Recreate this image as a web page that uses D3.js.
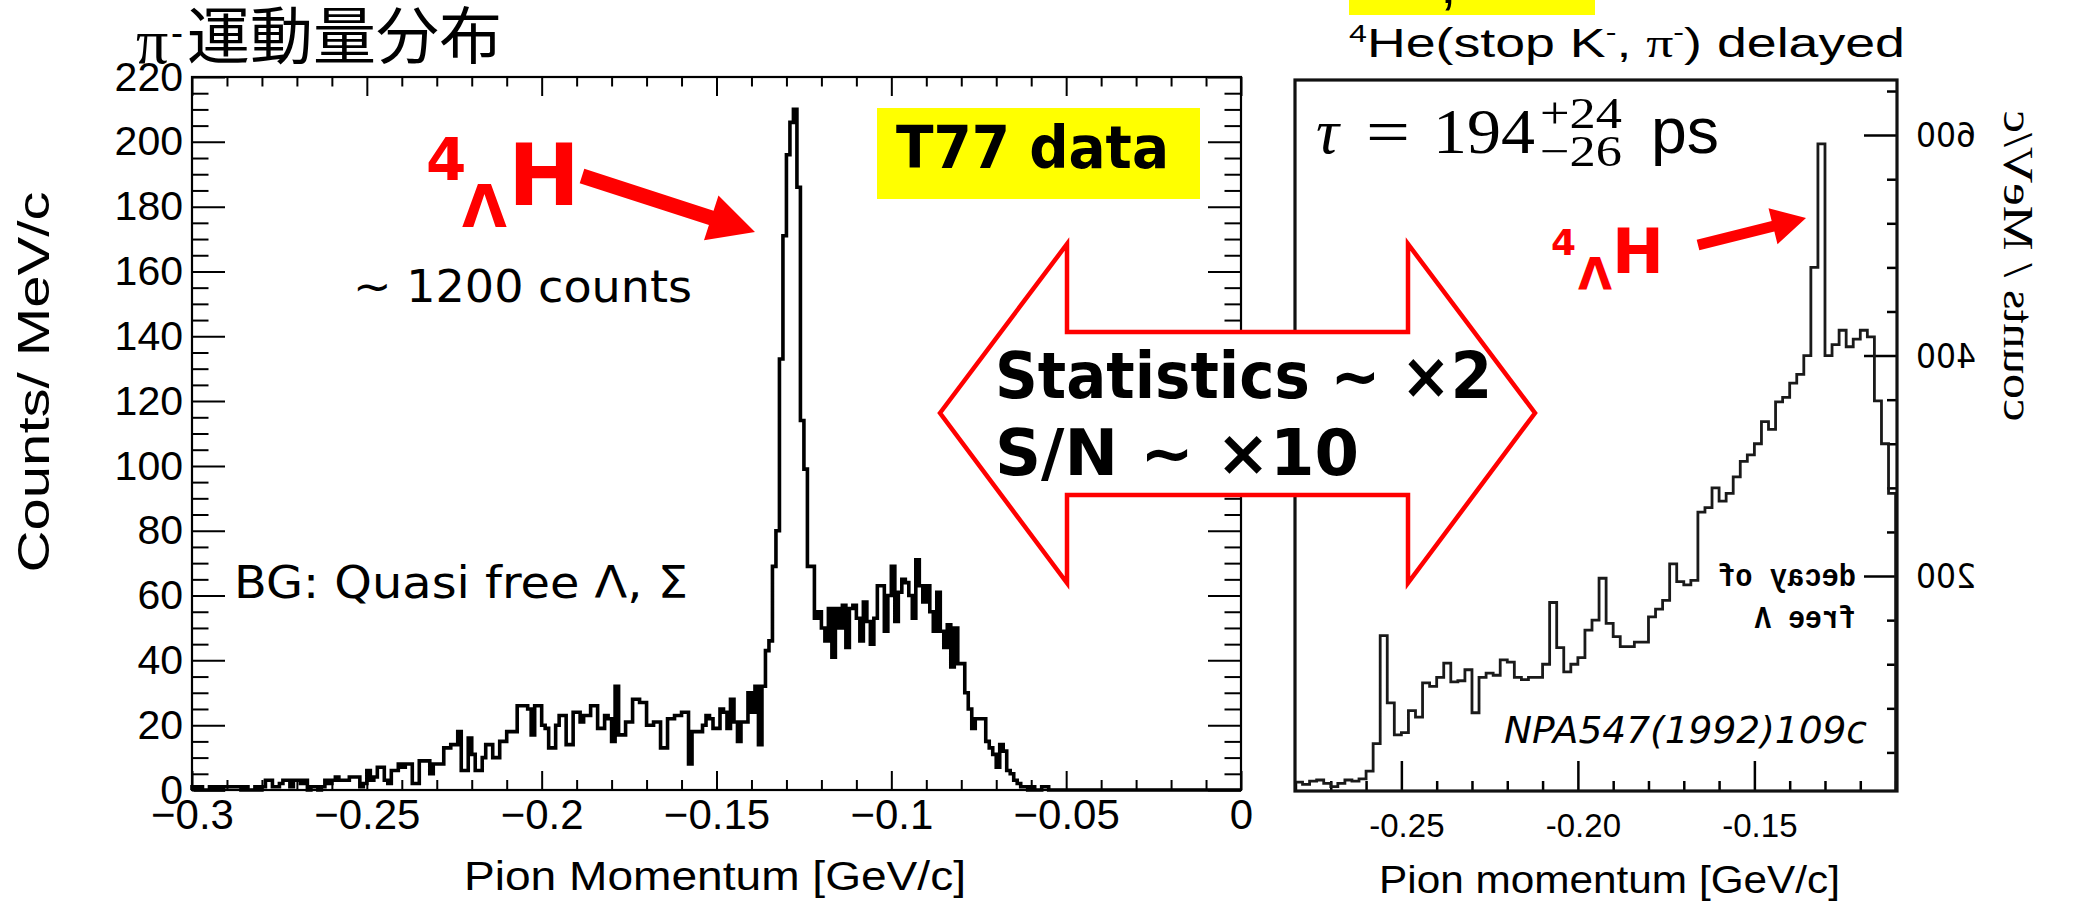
<!DOCTYPE html>
<html><head><meta charset="utf-8">
<script src="https://cdn.jsdelivr.net/npm/d3@7"></script>
<style>body{margin:0;background:#fff}svg{display:block}</style>
</head><body>
<svg id="c" width="2080" height="903"></svg>
<script>
// ---------------- DATA ----------------
// Left: T77 data, pi- momentum, 1 MeV/c bins starting at -0.300 GeV/c
const leftBinStart = -0.300;
const leftBinWidth = 0.001;
const leftCounts = [
 1,0,1,0,0,1,0,1,0,1,   1,1,1,1,0,1,0,0,1,0,
 1,3,3,1,1,2,3,3,1,3,   3,2,3,0,1,1,0,1,3,2,
 3,4,3,3,3,4,4,4,1,2,   6,3,4,7,7,3,2,6,6,8,
 7,8,8,2,2,9,9,9,5,8,   8,8,13,13,14,14,18,6,6,16,
 11,6,6,10,14,14,10,10,15,15,  18,18,18,26,26,26,25,17,26,26,
 20,19,13,13,20,23,23,14,14,24,  24,21,23,23,26,26,19,19,23,22,
 15,32,17,17,21,21,28,28,27,27,  20,20,21,21,13,13,22,22,23,23,
 24,24,8,18,18,18,20,23,22,19,   19,25,24,19,28,21,15,21,21,30,
 24,32,14,32,43,46,69,80,133,171, 196,206,210,186,114,99,69,69,53,55,
 50,46,56,41,56,50,57,44,56,57,  53,46,58,52,45,53,63,63,49,60,
 69,52,61,65,64,60,53,71,63,58,  63,55,49,61,49,44,51,38,50,39,
 39,30,25,19,22,22,22,15,13,11,  7,14,12,6,5,3,2,1,1,0,
 1,0,0,1,1,0,0,0,0,0,  0,0,0,0,0,0,0,0,0,0,
 0,0,0,0,0,0,0,0,0,0,  0,0,0,0,0,0,0,0,0,0,
 0,0,0,0,0,0,0,0,0,0,  0,0,0,0,0,0,0,0,0,0
];
const leftYTicks = [0,20,40,60,80,100,120,140,160,180,200,220];
const leftXTicks = [-0.3,-0.25,-0.2,-0.15,-0.1,-0.05,0];
const leftXTickLabels = ["\u22120.3","\u22120.25","\u22120.2","\u22120.15","\u22120.1","\u22120.05","0"];

// Right: NPA547(1992)109c, 2 MeV/c bins starting at -0.282 GeV/c
const rightBinStart = -0.282;
const rightBinWidth = 0.002;
const rightCounts = [
 13,
 13,11,14,15,12,9,12,15,14,16,
 23,48,146,85,56,58,78,72,103,100,
 108,121,104,105,115,76,108,112,110,124,
 122,108,106,108,108,120,176,135,113,120,
 126,151,160,198,157,145,136,136,140,140,
 163,170,178,211,195,192,196,258,262,280,
 268,275,290,304,310,320,340,333,358,362,
 375,383,400,480,592,400,410,423,408,415,
 423,417,359,320,275
];
const rightXTicks = [-0.25,-0.20,-0.15];
const rightXTickLabels = ["-0.25","-0.20","-0.15"];
const rightYTicks = [200,400,600];

// ---------------- DRAW ----------------
const svg = d3.select("#c");

function tickAxis(g, axis, tr, sw) {
  const a = g.append("g").attr("transform", tr).call(axis);
  a.select(".domain").remove();
  a.selectAll("line").attr("stroke", "#000").attr("stroke-width", sw || 2);
  a.selectAll("text").remove();
  return a;
}
function histPath(start, w, counts, x, y) {
  const n = counts.length;
  const pts = [[start, 0]];
  counts.forEach((c, i) => pts.push([start + i * w, c]));
  pts.push([start + n * w, counts[n - 1]]);
  pts.push([start + n * w, 0]);
  return d3.line().x(d => x(d[0])).y(d => y(d[1])).curve(d3.curveStepAfter)(pts);
}

// ===== LEFT CHART =====
const xL = d3.scaleLinear().domain([-0.3, 0]).range([192, 1241]);
const yL = d3.scaleLinear().domain([0, 220]).range([790, 77]);
const gL = svg.append("g");

const yMinor = d3.range(0, 221, 5).filter(v => v % 20 !== 0);
const xMinor = d3.range(-300, 1, 10).map(v => v / 1000).filter(v => Math.round(v * 1000) % 50 !== 0);

tickAxis(gL, d3.axisRight(yL).tickValues(yMinor).tickSize(16.5).tickFormat(""), "translate(192,0)");
tickAxis(gL, d3.axisRight(yL).tickValues(leftYTicks).tickSize(33).tickFormat(""), "translate(192,0)");
tickAxis(gL, d3.axisLeft(yL).tickValues(yMinor).tickSize(16.5).tickFormat(""), "translate(1241,0)");
tickAxis(gL, d3.axisLeft(yL).tickValues(leftYTicks).tickSize(33).tickFormat(""), "translate(1241,0)");
tickAxis(gL, d3.axisBottom(xL).tickValues(xMinor).tickSize(9.5).tickFormat(""), "translate(0,77)");
tickAxis(gL, d3.axisBottom(xL).tickValues(leftXTicks).tickSize(19).tickFormat(""), "translate(0,77)");
tickAxis(gL, d3.axisTop(xL).tickValues(xMinor).tickSize(10).tickFormat(""), "translate(0,790)");
tickAxis(gL, d3.axisTop(xL).tickValues(leftXTicks).tickSize(19).tickFormat(""), "translate(0,790)");

gL.append("rect").attr("x", 192).attr("y", 77).attr("width", 1241 - 192).attr("height", 790 - 77)
  .attr("fill", "none").attr("stroke", "#000").attr("stroke-width", 2.2);

// y labels
const yLab = gL.append("g").attr("transform", "translate(192,0)")
  .call(d3.axisLeft(yL).tickValues(leftYTicks).tickSize(0).tickPadding(9));
yLab.select(".domain").remove();
yLab.selectAll("text").attr("font-family", "Liberation Sans, Arial, sans-serif").attr("font-size", 41).attr("fill", "#000");
// x labels
const xLab = gL.append("g").attr("transform", "translate(0,790)")
  .call(d3.axisBottom(xL).tickValues(leftXTicks).tickSize(0).tickPadding(9).tickFormat((d, i) => leftXTickLabels[i]));
xLab.select(".domain").remove();
xLab.selectAll("text").attr("font-family", "Liberation Sans, Arial, sans-serif").attr("font-size", 42).attr("fill", "#000");

gL.append("path").attr("d", histPath(leftBinStart, leftBinWidth, leftCounts, xL, yL))
  .attr("fill", "none").attr("stroke", "#000").attr("stroke-width", 3.6).attr("stroke-linejoin", "miter");

// axis titles
gL.append("text").attr("x", 464).attr("y", 890).attr("font-family", "Liberation Sans, Arial, sans-serif")
  .attr("font-size", 40).attr("textLength", 502).attr("lengthAdjust", "spacingAndGlyphs").text("Pion Momentum [GeV/c]");
gL.append("text").attr("transform", "translate(49,382) rotate(-90)").attr("text-anchor", "middle")
  .attr("font-family", "Liberation Sans, Arial, sans-serif").attr("font-size", 44)
  .attr("textLength", 381).attr("lengthAdjust", "spacingAndGlyphs").text("Counts/ MeV/c");

// title
svg.append("text").attr("x", 136).attr("y", 63).attr("font-family", "Liberation Serif, serif").attr("font-size", 64).text("\u03c0");
svg.append("text").attr("x", 171).attr("y", 45).attr("font-family", "Liberation Sans, sans-serif").attr("font-size", 36).text("-");
svg.append("text").attr("x", 187).attr("y", 59).attr("font-family", "Noto Sans CJK JP, sans-serif").attr("font-size", 62)
  .attr("textLength", 315).attr("lengthAdjust", "spacingAndGlyphs").text("運動量分布");

// annotations left
const ann = "DejaVu Sans, Verdana, sans-serif";
svg.append("text").attr("x", 353).attr("y", 302).attr("font-family", ann).attr("font-size", 44)
  .attr("textLength", 339).attr("lengthAdjust", "spacingAndGlyphs").text("~ 1200 counts");
svg.append("text").attr("x", 234).attr("y", 598).attr("font-family", ann).attr("font-size", 44)
  .attr("textLength", 454).attr("lengthAdjust", "spacingAndGlyphs").text("BG: Quasi free \u039b, \u03a3");

svg.append("rect").attr("x", 877).attr("y", 108).attr("width", 323).attr("height", 91).attr("fill", "#ffff00");
svg.append("text").attr("x", 896).attr("y", 168).attr("font-family", ann).attr("font-weight", "bold").attr("font-size", 58)
  .attr("textLength", 273).attr("lengthAdjust", "spacingAndGlyphs").text("T77 data");

function hypH(x4, y4, s4, xL_, yL_, sL, xH, yH, sH) {
  const g = svg.append("g").attr("fill", "#ff0000").attr("font-family", ann).attr("font-weight", "bold");
  g.append("text").attr("x", x4).attr("y", y4).attr("font-size", s4).text("4");
  g.append("text").attr("x", xL_).attr("y", yL_).attr("font-size", sL).text("\u039b");
  g.append("text").attr("x", xH).attr("y", yH).attr("font-size", sH).text("H");
}
hypH(426, 180, 58, 462, 227, 58, 508, 205, 86);
hypH(1551, 255, 36, 1578, 290, 44, 1612, 273, 62);

function arrowPoly(x0, y0, x1, y1, sw, hl, hw) {
  const dx = x1 - x0, dy = y1 - y0, L = Math.hypot(dx, dy);
  const ux = dx / L, uy = dy / L, nx = -uy, ny = ux;
  const bx = x1 - ux * hl, by = y1 - uy * hl;
  const P = (a, b) => [a, b];
  return [
    P(x0 + nx * sw / 2, y0 + ny * sw / 2), P(bx + nx * sw / 2, by + ny * sw / 2),
    P(bx + nx * hw / 2, by + ny * hw / 2), P(x1, y1),
    P(bx - nx * hw / 2, by - ny * hw / 2), P(bx - nx * sw / 2, by - ny * sw / 2),
    P(x0 - nx * sw / 2, y0 - ny * sw / 2)
  ].map(p => p.join(",")).join(" ");
}
svg.append("polygon").attr("points", arrowPoly(582, 176, 755, 232, 15, 46, 47)).attr("fill", "#ff0000");

// ===== RIGHT CHART =====
const xR = d3.scaleLinear().domain([-0.2807, -0.1096]).range([1293, 1897]);
const yR = d3.scaleLinear().domain([5, 650]).range([791, 80]);
const gR = svg.append("g");
svg.append("defs").append("clipPath").attr("id", "clipR").append("rect")
  .attr("x", 1294).attr("y", 80).attr("width", 1897 - 1294).attr("height", 791 - 80);

// top yellow strip (cut-off label) and header
svg.append("rect").attr("x", 1349).attr("y", 0).attr("width", 246).attr("height", 15).attr("fill", "#ffff00");
svg.append("text").attr("x", 1440).attr("y", 3).attr("font-family", "Liberation Sans, sans-serif").attr("font-size", 60).text(",");

const hdr = svg.append("text").attr("x", 1349).attr("y", 57).attr("font-family", "Liberation Sans, Arial, sans-serif")
  .attr("font-size", 40).attr("textLength", 556).attr("lengthAdjust", "spacingAndGlyphs");
hdr.append("tspan").attr("font-size", 24).attr("dy", -15).text("4");
hdr.append("tspan").attr("dy", 15).text("He(stop K");
hdr.append("tspan").attr("font-size", 24).attr("dy", -17).text("-");
hdr.append("tspan").attr("dy", 17).text(", ");
hdr.append("tspan").attr("font-family", "Liberation Serif, serif").text("\u03c0");
hdr.append("tspan").attr("font-size", 24).attr("dy", -17).text("-");
hdr.append("tspan").attr("dy", 17).text(") delayed");

const rMinorY = d3.range(40, 650, 40).filter(v => v % 200 !== 0);
const rMinorX = d3.range(-280, -109, 10).map(v => v / 1000).filter(v => Math.round(v * 1000) % 50 !== 0);
tickAxis(gR, d3.axisLeft(yR).tickValues(rMinorY).tickSize(10).tickFormat(""), "translate(1897,0)", 2.5);
tickAxis(gR, d3.axisLeft(yR).tickValues(rightYTicks).tickSize(33).tickFormat(""), "translate(1897,0)", 2.5);
tickAxis(gR, d3.axisTop(xR).tickValues(rMinorX).tickSize(10).tickFormat(""), "translate(0,791)", 2.5);
tickAxis(gR, d3.axisTop(xR).tickValues(rightXTicks).tickSize(30).tickFormat(""), "translate(0,791)", 2.5);

gR.append("path").attr("clip-path", "url(#clipR)")
  .attr("d", histPath(rightBinStart, rightBinWidth, rightCounts, xR, yR))
  .attr("fill", "none").attr("stroke", "#1a1a1a").attr("stroke-width", 2.8);

gR.append("rect").attr("x", 1295).attr("y", 80).attr("width", 1897 - 1295).attr("height", 791 - 80)
  .attr("fill", "none").attr("stroke", "#111").attr("stroke-width", 3.2);

// bottom tick labels
const xRLab = gR.append("g").attr("transform", "translate(0,791)")
  .call(d3.axisBottom(xR).tickValues(rightXTicks).tickSize(0).tickPadding(23).tickFormat((d, i) => rightXTickLabels[i]));
xRLab.select(".domain").remove();
xRLab.selectAll("text").attr("font-family", "Liberation Sans, Arial, sans-serif").attr("font-size", 33).attr("dx", 5).attr("fill", "#000");
gR.append("text").attr("x", 1379).attr("y", 893).attr("font-family", "Liberation Sans, Arial, sans-serif")
  .attr("font-size", 38).attr("textLength", 461).attr("lengthAdjust", "spacingAndGlyphs").text("Pion momentum [GeV/c]");

// mirrored right-axis labels (scanned figure is mirrored)
gR.selectAll(".mlab").data(rightYTicks).join("text").attr("class", "mlab")
  .attr("transform", d => `translate(1946,${yR(d)}) scale(-1,1)`)
  .attr("text-anchor", "middle").attr("dominant-baseline", "central")
  .attr("font-family", "DejaVu Sans, sans-serif").attr("font-size", 34)
  .attr("textLength", 60).attr("lengthAdjust", "spacingAndGlyphs").text(d => d);
gR.append("text").attr("transform", "translate(2004,266) scale(-1,1) rotate(-90)").attr("text-anchor", "middle")
  .attr("font-family", "Liberation Serif, serif").attr("font-size", 42)
  .attr("textLength", 311).attr("lengthAdjust", "spacingAndGlyphs").text("counts / MeV/c");
gR.append("text").attr("transform", "translate(1787,586) scale(-1,1)").attr("text-anchor", "middle")
  .attr("font-family", "Liberation Mono, monospace").attr("font-weight", "bold").attr("font-size", 31)
  .attr("textLength", 138).attr("lengthAdjust", "spacingAndGlyphs").text("decay of");
gR.append("text").attr("transform", "translate(1805,628) scale(-1,1)").attr("text-anchor", "middle")
  .attr("font-family", "Liberation Mono, monospace").attr("font-weight", "bold").attr("font-size", 31)
  .attr("textLength", 101).attr("lengthAdjust", "spacingAndGlyphs").text("free \u039b");

// tau text
const tf = "Liberation Serif, DejaVu Serif, serif";
svg.append("text").attr("x", 1316).attr("y", 153).attr("font-family", tf).attr("font-style", "italic").attr("font-size", 64).text("\u03c4");
svg.append("text").attr("x", 1366).attr("y", 153).attr("font-family", tf).attr("font-size", 64)
  .attr("textLength", 44).attr("lengthAdjust", "spacingAndGlyphs").text("=");
svg.append("text").attr("x", 1433).attr("y", 153).attr("font-family", tf).attr("font-size", 64)
  .attr("textLength", 102).attr("lengthAdjust", "spacingAndGlyphs").text("194");
svg.append("text").attr("x", 1540).attr("y", 128).attr("font-family", tf).attr("font-size", 44)
  .attr("textLength", 82).attr("lengthAdjust", "spacingAndGlyphs").text("+24");
svg.append("text").attr("x", 1540).attr("y", 166).attr("font-family", tf).attr("font-size", 44)
  .attr("textLength", 82).attr("lengthAdjust", "spacingAndGlyphs").text("\u221226");
svg.append("text").attr("x", 1651).attr("y", 153).attr("font-family", "Liberation Sans, sans-serif").attr("font-size", 64)
  .attr("textLength", 68).attr("lengthAdjust", "spacingAndGlyphs").text("ps");

svg.append("text").attr("x", 1504).attr("y", 743).attr("font-family", ann).attr("font-style", "italic").attr("font-size", 38)
  .attr("textLength", 363).attr("lengthAdjust", "spacingAndGlyphs").text("NPA547(1992)109c");

svg.append("polygon").attr("points", arrowPoly(1698, 245, 1806, 218, 11, 34, 37)).attr("fill", "#ff0000");

// ===== DOUBLE ARROW =====
const da = [[940,413],[1067,244],[1067,332],[1408,332],[1408,244],[1535,413],[1408,583],[1408,495],[1067,495],[1067,583]];
svg.append("polygon").attr("points", da.map(p => p.join(",")).join(" "))
  .attr("fill", "#fff").attr("stroke", "#ff0000").attr("stroke-width", 4.5).attr("stroke-linejoin", "miter");
svg.append("text").attr("x", 995).attr("y", 398).attr("font-family", ann).attr("font-weight", "bold").attr("font-size", 64)
  .attr("textLength", 497).attr("lengthAdjust", "spacingAndGlyphs").text("Statistics ~ \u00d72");
svg.append("text").attr("x", 995).attr("y", 475).attr("font-family", ann).attr("font-weight", "bold").attr("font-size", 64)
  .attr("textLength", 364).attr("lengthAdjust", "spacingAndGlyphs").text("S/N ~ \u00d710");
</script>
</body></html>
